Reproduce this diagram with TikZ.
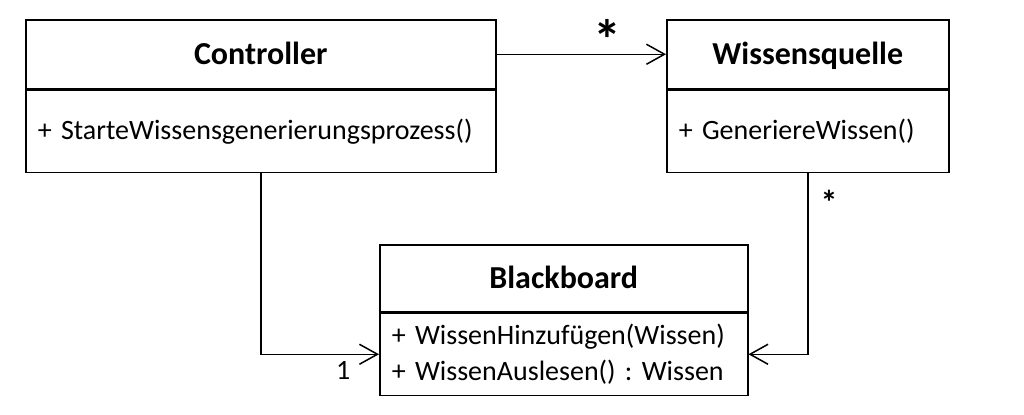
\documentclass[tikz,border=0pt]{standalone}
\usepackage{fontspec}
\setmainfont{Carlito}
\usetikzlibrary{positioning,arrows.meta}
\frenchspacing
\tikzset{
  classtitle/.style={draw,line width=0.75pt,font=\bfseries\fontsize{16}{19}\selectfont,minimum height=34.5pt,inner sep=0pt,text height=10.5pt,text depth=0pt},
  classbody/.style={draw,line width=0.75pt,font=\fontsize{14}{18}\selectfont,minimum height=41pt,inner xsep=6pt,inner ysep=0pt,align=left},
  assoc/.style={line width=0.75pt,-{Straight Barb[length=9pt,width=10pt,line width=0.75pt]}},
  mult/.style={font=\fontsize{14}{16}\selectfont,inner sep=0pt}
}

\begin{document}
\begin{tikzpicture}[x=0.5pt,y=-0.5pt]
      \useasboundingbox (0,0) rectangle (1024,414);
      \node[classtitle,minimum width=235pt,anchor=north west] (controller) at (25,19) {Controller};
      \node[classbody,text width=223pt,below=0pt of controller] (controller body) {+ StarteWissensgenerierungsprozess()};
      \node[classtitle,minimum width=141pt,anchor=north west] (quelle) at (666,19) {Wissensquelle};
      \node[classbody,text width=129pt,below=0pt of quelle] (quelle body) {+ GeneriereWissen()};
      \node[classtitle,minimum width=184pt,minimum height=33.5pt,anchor=north west] (board) at (379,244) {Blackboard};
      \node[classbody,text width=172pt,below=0pt of board] (board body) {+ WissenHinzufügen(Wissen)\\+ WissenAuslesen() : Wissen};

      \draw[assoc] (controller) -- node[mult,pos=0.655,above=-3pt,font=\bfseries\fontsize{28}{28}\selectfont] {*} (quelle);
      \draw[assoc] (controller body) |- node[mult,pos=1,below left=3pt and 14pt] {1} (board body);
      \draw[assoc] (quelle body) |- node[mult,pos=0,below right=8pt and 6pt,font=\bfseries\fontsize{17}{17}\selectfont] {*} (board body);
    \end{tikzpicture}
\end{document}
